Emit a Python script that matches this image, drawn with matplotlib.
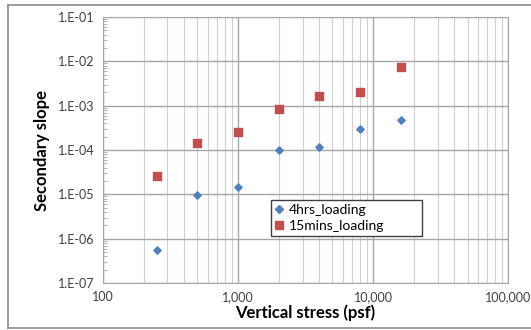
import numpy as np
import matplotlib
matplotlib.use('Agg')
import matplotlib.pyplot as plt
from matplotlib.ticker import FixedLocator, FuncFormatter, LogLocator, NullFormatter
from matplotlib.lines import Line2D

plt.rcParams['font.family'] = ['Lato', 'DejaVu Sans']

# Data
stress = [250, 500, 1000, 2000, 4000, 8000, 16000]
slope_4hrs = [5.6e-7, 9.7e-6, 1.45e-5, 1.0e-4, 1.2e-4, 2.95e-4, 4.8e-4]
slope_15mins = [2.6e-5, 1.42e-4, 2.6e-4, 8.5e-4, 1.63e-3, 2.0e-3, 7.6e-3]
x_ticks = [100, 1000, 10000, 100000]
y_ticks = [1e-7, 1e-6, 1e-5, 1e-4, 1e-3, 1e-2, 1e-1]

fig = plt.figure(figsize=(5.31, 3.30), dpi=100)
ax = fig.add_axes([0.194, 0.1424, 0.763, 0.806])

ax.set_xscale('log')
ax.set_yscale('log')
ax.set_xlim(100, 100000)
ax.set_ylim(1e-7, 1e-1)

ax.scatter(stress, slope_4hrs, marker='D', s=14, color='#4F81BD', zorder=3,
           label='4hrs_loading')
ax.scatter(stress, slope_15mins, marker='s', s=32, color='#C0504D', zorder=3,
           label='15mins_loading')

# grid
ax.xaxis.set_major_locator(FixedLocator(x_ticks))
ax.xaxis.set_minor_locator(LogLocator(base=10, subs=np.arange(2, 10)))
ax.xaxis.set_minor_formatter(NullFormatter())
ax.yaxis.set_major_locator(FixedLocator(y_ticks))
ax.yaxis.set_minor_locator(LogLocator(base=10, subs=np.arange(2, 10)))
ax.yaxis.set_minor_formatter(NullFormatter())
ax.grid(True, which='major', color='#A6A6A6', linewidth=1.0)
ax.grid(True, which='minor', axis='x', color='#D0D0D0', linewidth=0.8)
ax.set_axisbelow(True)

ax.xaxis.set_major_formatter(FuncFormatter(lambda v, p: f'{int(round(v)):,}'))
ax.yaxis.set_major_formatter(FuncFormatter(lambda v, p: f'1.E-{int(round(-np.log10(v))):02d}'))

ax.tick_params(axis='both', which='major', length=0, labelsize=9, colors='#404040', pad=6)
ax.tick_params(axis='x', which='minor', length=0)
ax.tick_params(axis='y', which='minor', length=3, direction='in', color='#A6A6A6')

for side in ['top', 'right', 'left', 'bottom']:
    ax.spines[side].set_color('#A6A6A6')

ax.set_xlabel('Vertical stress (psf)', fontsize=12, fontweight='bold', labelpad=1)
ax.set_ylabel('Secondary slope', fontsize=12, fontweight='bold', labelpad=6)

handles = [
    Line2D([], [], marker='D', linestyle='none', color='#4F81BD', markersize=3.6),
    Line2D([], [], marker='s', linestyle='none', color='#C0504D', markersize=5.5),
]
leg = ax.legend(handles, ['4hrs_loading', '15mins_loading'],
                loc='lower left', bbox_to_anchor=(0.415, 0.177, 0.373, 0.158),
                mode='expand', fancybox=False, framealpha=1, edgecolor='#404040',
                fontsize=10, handlelength=0.6, handletextpad=0.4,
                borderpad=0.3, labelspacing=0.25, borderaxespad=0)
leg.get_frame().set_linewidth(1.0)

# outer chart frame (open on the right, as cropped)
frame_kw = dict(color='#8C8C8C', linewidth=1.2, transform=fig.transFigure)
fig.add_artist(Line2D([8 / 531, 1], [1 - 5 / 330, 1 - 5 / 330], **frame_kw))
fig.add_artist(Line2D([8 / 531, 8 / 531], [1 - 5 / 330, 1 - 328 / 330], **frame_kw))
fig.add_artist(Line2D([8 / 531, 1], [1 - 328 / 330, 1 - 328 / 330], **frame_kw))

fig.savefig('out.png', dpi=100)
